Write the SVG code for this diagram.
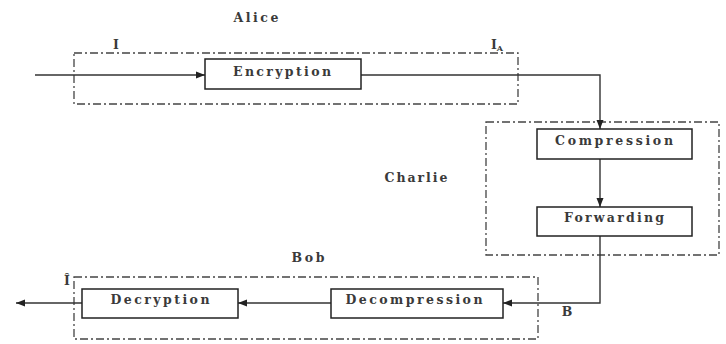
<svg xmlns="http://www.w3.org/2000/svg" width="726" height="344" viewBox="0 0 726 344">
<defs>
<marker id="ah" markerWidth="10" markerHeight="8" refX="9" refY="4" orient="auto" markerUnits="userSpaceOnUse">
<path d="M0,0.5 L9,4 L0,7.5 z" fill="#222"/>
</marker>
<style>
.grp{fill:none;stroke:#444;stroke-width:1.3;stroke-dasharray:8 3 2 3}
.box{fill:#fff;stroke:#222;stroke-width:1.5}
.lbl{font-family:"DejaVu Serif","Liberation Serif",serif;font-weight:bold;font-size:12.5px;fill:#3a3a3a;text-anchor:middle}
.con{fill:none;stroke:#333;stroke-width:1.4}
</style>
</defs>
<rect width="726" height="344" fill="#fff"/>
<g id="groups">
<rect id="alice-region" class="grp" x="74" y="53" width="444" height="51"/>
<rect id="charlie-region" class="grp" x="486" y="122" width="233" height="133"/>
<rect id="bob-region" class="grp" x="74" y="277" width="464" height="62"/>
</g>
<g id="connectors">
<line class="con" x1="35" y1="75" x2="205" y2="75" marker-end="url(#ah)"/>
<polyline class="con" points="361,75 600,75 600,129" marker-end="url(#ah)"/>
<line class="con" x1="600" y1="159" x2="600" y2="207" marker-end="url(#ah)"/>
<polyline class="con" points="600,236 600,303 503,303" marker-end="url(#ah)"/>
<line class="con" x1="331" y1="303" x2="238" y2="303" marker-end="url(#ah)"/>
<line class="con" x1="82" y1="303" x2="16" y2="303" marker-end="url(#ah)"/>
</g>
<g id="encryption"><rect class="box" x="205" y="59" width="156" height="30"/><text class="lbl" x="282" y="76" textLength="98" lengthAdjust="spacing">Encryption</text></g>
<g id="compression"><rect class="box" x="537" y="129" width="155" height="30"/><text class="lbl" x="614" y="145" textLength="118" lengthAdjust="spacing">Compression</text></g>
<g id="forwarding"><rect class="box" x="537" y="207" width="155" height="29"/><text class="lbl" x="614" y="222" textLength="100" lengthAdjust="spacing">Forwarding</text></g>
<g id="decompression"><rect class="box" x="331" y="289" width="172" height="29"/><text class="lbl" x="414" y="304" textLength="137" lengthAdjust="spacing">Decompression</text></g>
<g id="decryption"><rect class="box" x="82" y="289" width="156" height="29"/><text class="lbl" x="160" y="304" textLength="99" lengthAdjust="spacing">Decryption</text></g>
<g id="labels">
<text class="lbl" x="256" y="22" textLength="45" lengthAdjust="spacing">Alice</text>
<text class="lbl" x="416" y="182" textLength="63" lengthAdjust="spacing">Charlie</text>
<text class="lbl" x="308" y="262" textLength="33" lengthAdjust="spacing">Bob</text>
<text class="lbl" x="116" y="49">I</text>
<text class="lbl" x="497" y="49">I<tspan font-size="8" dy="2">A</tspan></text>
<text class="lbl" x="567" y="316">B</text>
<text class="lbl" x="67" y="285">Î</text>
</g>
</svg>
